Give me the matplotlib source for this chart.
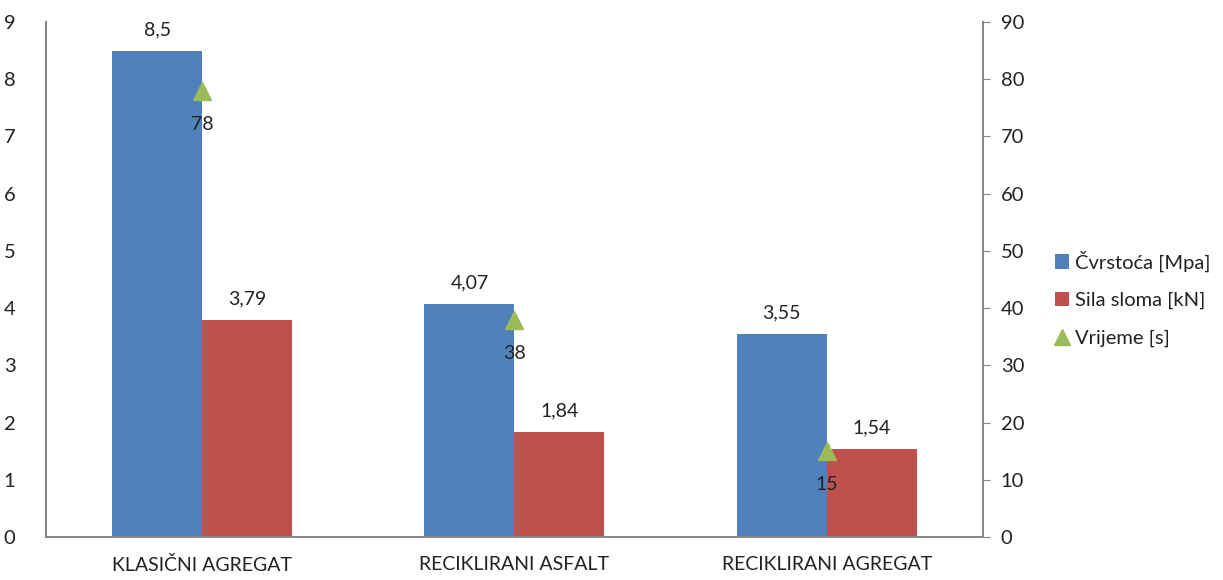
import numpy as np
import matplotlib.pyplot as plt
from matplotlib.lines import Line2D
from matplotlib.patches import Patch

# ---------------- Data ----------------
categories = ["KLASIČNI AGREGAT", "RECIKLIRANI ASFALT", "RECIKLIRANI AGREGAT"]
cvrstoca = [8.5, 4.07, 3.55]      # Čvrstoća [Mpa]
sila = [3.79, 1.84, 1.54]         # Sila sloma [kN]
vrijeme = [78, 38, 15]            # Vrijeme [s]

BLUE = "#4F81BD"
RED = "#C0504D"
GREEN = "#9BBB59"
AXIS = "#868686"
TXT = "#222222"

plt.rcParams["font.family"] = ["Lato", "DejaVu Sans"]

fig = plt.figure(figsize=(12.23, 5.8), dpi=100)
ax = fig.add_axes([0.0376, 0.0741, 0.766, 0.888])
ax2 = ax.twinx()

x = np.arange(len(categories))
w = 0.288

ax.bar(x - w / 2, cvrstoca, w, color=BLUE, zorder=2)
ax.bar(x + w / 2, sila, w, color=RED, zorder=2)

def fmt(v):
    s = f"{v:g}"
    return s.replace(".", ",")

for xi, v in zip(x, cvrstoca):
    ax.annotate(fmt(v), (xi - w / 2, v), xytext=(0, 9), textcoords="offset points",
                ha="center", va="bottom", fontsize=14, color=TXT)
for xi, v in zip(x, sila):
    ax.annotate(fmt(v), (xi + w / 2, v), xytext=(0, 9), textcoords="offset points",
                ha="center", va="bottom", fontsize=14, color=TXT)

ax2.plot(x, vrijeme, linestyle="none", marker="^", markersize=13, color=GREEN, zorder=3)
for xi, v in zip(x, vrijeme):
    ax2.annotate(fmt(v), (xi, v), xytext=(0, -18), textcoords="offset points",
                 ha="center", va="top", fontsize=14, color=TXT)

ax.set_xlim(-0.5, 2.5)
ax.set_ylim(0, 9)
ax2.set_ylim(0, 90)
ax.set_yticks(range(0, 10))
ax2.set_yticks(range(0, 91, 10))
ax.set_xticks(x)
ax.set_xticklabels(categories)

for a in (ax, ax2):
    a.spines["top"].set_visible(False)
    for sp in ("left", "right", "bottom"):
        a.spines[sp].set_color(AXIS)
        a.spines[sp].set_linewidth(1.3)

ax.tick_params(axis="y", length=0, pad=22, labelsize=14.5, labelcolor=TXT)
ax.tick_params(axis="x", length=0, pad=14, labelsize=14, labelcolor=TXT)
ax2.tick_params(axis="y", length=5, color=AXIS, pad=8, labelsize=14.5, labelcolor=TXT)

handles = [
    Patch(facecolor=BLUE, label="Čvrstoća [Mpa]"),
    Patch(facecolor=RED, label="Sila sloma [kN]"),
    Line2D([], [], linestyle="none", marker="^", markersize=12, color=GREEN, label="Vrijeme [s]"),
]
fig.legend(handles=handles, loc="center left", bbox_to_anchor=(0.848, 0.485),
           frameon=False, fontsize=14.5, handlelength=0.7, handleheight=0.7,
           handletextpad=0.3, labelspacing=1.0, labelcolor=TXT)

fig.savefig("out.png", dpi=100)
